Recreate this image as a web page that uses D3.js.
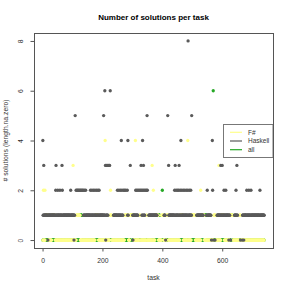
<!DOCTYPE html>
<html>
<head>
<meta charset="utf-8">
<script src="https://cdn.jsdelivr.net/npm/d3@7"></script>
<style>
  body { margin: 0; background: #fff; }
  svg { display: block; font-family: "Liberation Sans", Arial, Helvetica, sans-serif; }
</style>
</head>
<body>
<div class="chartdiv"></div>
<script>
//solutions per task, one character per task (first char = task 1), groups of 10 tasks,
//"." = no value for that task
var fsharpCounts = [
    "0020000201 1111111110 0000000000 1111111111 1000000000",
    "0000000000 0000000000 0000000000 0000000000 0000000000",
    "0300000000 0011111111 1111100000 0000000000 0000000000",
    "0000000000 0000000000 0000011111 1111110000 0000000000",
    "0000000040 0000000000 0000112111 0000000000 0000000000",
    "0000000000 0000000000 0001111111 1111110000 0111111111",
    "1110000004 0000000000 0001110000 0000000000 0000001100",
    "0000000000 0000030002 0000011111 1111110000 0000000111",
    "1110000000 0001111110 0000000000 0000000000 0000000000",
    "0000000011 1111111110 0000000000 0000400000 0000001111",
    "1111111110 0000000000 0000000201 1111111111 0000000000",
    "0000000000 0000000000 0111111100 0000000030 0000011111",
    "1111110000 0000000000 0000111111 1111100000 0000000000",
    "0000001111 1000000000 0000000000 0000000000 0000000000",
    "0000000000 0000000000 0000000000 0000000000"
];

var haskellCounts = [
    "4113111111 1111111011 1111111111 1111111111 1112311111",
    "2111111211 1111321111 1111111111 1111111111 1112111111",
    "1111011.5. .2..2..2.. 2..2..2..2 ..2..21112 1112111111",
    "1111111112 1111211112 1111211112 1111211121 1111111111",
    "1115111613 013113113. .3.3.6.... ......1111 1111111112",
    "1111211112 11412111.2 ...2...2.. ..2141.... ..3.......",
    "1011111111 211121112. ..2...2.3. 2114213121 1.2...2.52",
    "....111111 1111111111 1111111111 11........ ..........",
    ".....1111. 0......5.. 3111111111 1111111111 2131121111",
    "2111231112 1411211112 1111211112 1111281112 11112115..",
    ".......... ....111111 1111111111 111111.... .......112",
    "1111111111 11.0..42.0 .....0.... ..11111111 1111311113",
    "1111121111 1211111111 10111..0.. .......... 1111121131",
    "1......... 0.....0111 1011111111 1211111121 1111121111",
    "1111111111 1111111111 1111121111 1111111111"
];

var allCounts = [
    "0000000000 0000000000 0000000000 0000000000 0000000000",
    "0000000000 0000000000 0000000000 0000000000 0000000000",
    "0000000000 0000000000 0001111111 1000000000 0000000000",
    "0000000000 0000000000 0000000000 0000000000 0000000000",
    "0000000000 0000000000 0000000000 0000000000 0000000000",
    "0000000000 0000000000 0000000000 0000000000 0000011110",
    "0000000000 0000000000 0000000000 0000000000 0000000000",
    "0000000000 0000000000 0000000000 0000001111 1000000002",
    "0000000000 0000000000 0000000000 0000000000 0000000000",
    "0000000000 0000000000 0000000000 0000000000 0000000000",
    "0000000000 0000000000 0000000000 0000001111 1111111000",
    "0000000000 0000000006 0000000000 0000000000 0000000000",
    "0000000000 0000000000 0000000001 1111000000 0000000000",
    "0000000000 0000000000 0000000000 0000000000 0000000000",
    "0000000000 0000000000 0000000000 0000000000"
];

var seriesNames = ["F#", "Haskell", "all"];
var xTicks = [0, 200, 400, 600];
var yTicks = [0, 2, 4, 6, 8];

//begin script when window loads
window.onload = drawChart();

//turn the digit strings into {task, n} points
function parseCounts(lines){
    var s = lines.join("").replace(/ /g, "");
    var pts = [];
    for (var i=0; i<s.length; i++){
        if (s[i] != ".") pts.push({task: i+1, n: +s[i]});
    };
    return pts;
};

function drawChart(){

    var width = 291,
        height = 291;
    var left = 34, right = 273, top = 33, bottom = 248;

    var fsharp = parseCounts(fsharpCounts),
        haskell = parseCounts(haskellCounts),
        all = parseCounts(allCounts);

    //colours by series name
    var colors = {"F#": "#ffff8c", "Haskell": "#5a5a5a", "all": "#25a825"};

    var svg = d3.select("div.chartdiv")
        .append("svg")
        .attr("width", width)
        .attr("height", height);

    //R style 4% padding on both axes
    var taskExtent = d3.extent(haskell.concat(fsharp), function(d){ return d.task; });
    var padX = (taskExtent[1] - taskExtent[0]) * 0.04;
    var x = d3.scaleLinear()
        .domain([taskExtent[0] - padX, taskExtent[1] + padX])
        .range([left, right]);

    var y = d3.scaleLinear()
        .domain([-0.32, 8.32])
        .range([bottom, top]);

    //points: all first, then F#, Haskell on top
    var layers = [[all, "all"], [fsharp, "F#"], [haskell, "Haskell"]];
    layers.forEach(function(layer){
        svg.append("g")
            .selectAll("circle")
            .data(layer[0])
            .enter()
            .append("circle")
            .attr("cx", function(d){ return x(d.task); })
            .attr("cy", function(d){ return y(d.n); })
            .attr("r", 1.65)
            .style("fill", colors[layer[1]]);
    });

    //x axis
    var xAxis = svg.append("g")
        .attr("transform", "translate(0," + bottom + ")")
        .call(d3.axisBottom(x).tickValues(xTicks).tickSize(3.5).tickFormat(d3.format("d")));
    xAxis.select(".domain").remove();
    xAxis.selectAll("line").style("stroke", "#555");
    xAxis.selectAll("text")
        .attr("y", 15)
        .attr("dy", 0)
        .style("font-size", "6.8px")
        .style("fill", "#333");

    //y axis with labels turned parallel to the axis
    var yAxis = svg.append("g")
        .attr("transform", "translate(" + left + ",0)")
        .call(d3.axisLeft(y).tickValues(yTicks).tickSize(3.5));
    yAxis.select(".domain").remove();
    yAxis.selectAll("line").style("stroke", "#555");
    yAxis.selectAll("text")
        .attr("x", 0)
        .attr("dy", 0)
        .attr("transform", "translate(-11,0) rotate(-90)")
        .attr("text-anchor", "middle")
        .style("font-size", "6.8px")
        .style("fill", "#333");

    //legend
    var legend = svg.append("g");
    legend.append("rect")
        .attr("x", 223.5)
        .attr("y", 124.5)
        .attr("width", 49.5)
        .attr("height", 33)
        .style("fill", "#fff")
        .style("stroke", "#777");
    seriesNames.forEach(function(name, i){
        var ly = 132.3 + i * 8.7;
        legend.append("line")
            .attr("x1", 230)
            .attr("x2", 242)
            .attr("y1", ly)
            .attr("y2", ly)
            .style("stroke", colors[name])
            .style("stroke-width", 1.2);
        legend.append("text")
            .attr("x", 248)
            .attr("y", ly + 2.3)
            .style("font-size", "6.5px")
            .style("fill", "#333")
            .text(name);
    });

    //plot box
    svg.append("rect")
        .attr("x", left + 0.5)
        .attr("y", top + 0.5)
        .attr("width", right - left)
        .attr("height", bottom - top)
        .style("fill", "none")
        .style("stroke", "#555");

    //titles
    svg.append("text")
        .attr("x", (left + right) / 2)
        .attr("y", 20)
        .attr("text-anchor", "middle")
        .style("font-size", "8px")
        .style("font-weight", "bold")
        .text("Number of solutions per task");

    svg.append("text")
        .attr("x", (left + right) / 2)
        .attr("y", 280)
        .attr("text-anchor", "middle")
        .style("font-size", "6.8px")
        .style("fill", "#333")
        .text("task");

    svg.append("text")
        .attr("transform", "translate(8," + ((top + bottom) / 2) + ") rotate(-90)")
        .attr("text-anchor", "middle")
        .style("font-size", "6.8px")
        .style("fill", "#333")
        .text("# solutions (length.na.zero)");
};
</script>
</body>
</html>
